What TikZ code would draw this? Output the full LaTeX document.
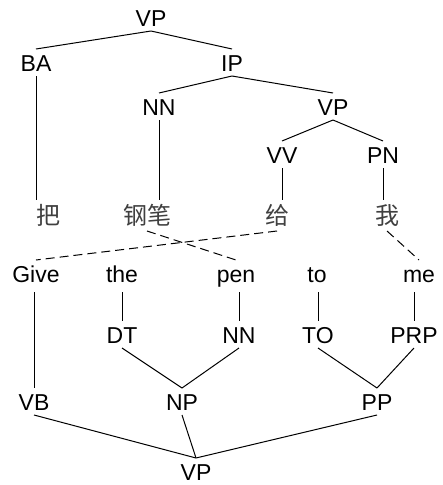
\documentclass[tikz,border=0pt]{standalone}
\usepackage{fontspec}
\setmainfont{Liberation Sans}
\newfontfamily\zhfont{Noto Sans CJK SC}
\usetikzlibrary{%
	positioning,
	calc
}

\begin{document}
\begin{tikzpicture}[
		x=1pt, y=-1pt, line width=1pt,
		tag/.style={font=\fontsize{23}{23}\selectfont, anchor=base, inner sep=0pt, outer ysep=5pt, text height=17pt, text depth=0pt},
		word/.style={tag, text depth=5pt},
		zh/.style={font=\zhfont\fontsize{24}{24}\selectfont, text=black!75, anchor=base, inner sep=0pt, outer ysep=5pt, text height=19pt, text depth=2pt},
		link/.style={dash pattern=on 9pt off 5pt}
	]
	\useasboundingbox (0,0) rectangle (443,485);
	
	% Chinese tree
	\node (vp-top) [tag] at (151,26) {VP};
	\node (ba) [tag] at (36,71) {BA};
	\node (ip) [tag] at (232,71) {IP};
	\node (nn-zh) [tag] at (159,115) {NN};
	\node (vp-zh) [tag] at (333,115) {VP};
	\node (vv) [tag] at (282,163) {VV};
	\node (pn) [tag] at (383,163) {PN};
	
	\node (zh-ba) [zh] at (48,224) {把};
	\node (zh-gangbi) [zh] at (147,224) {钢笔};
	\node (zh-gei) [zh] at (277,224) {给};
	\node (zh-wo) [zh] at (387,224) {我};
	
	\draw (vp-top.south) -- (ba.north);
	\draw (vp-top.south) -- (ip.north);
	\draw (ip.south) -- (nn-zh.north);
	\draw (ip.south) -- (vp-zh.north);
	\draw (vp-zh.south) -- (vv.north);
	\draw (vp-zh.south) -- (pn.north);
	\draw (ba.south) -- (ba.south |- zh-ba.north);
	\draw (nn-zh.south) -- (nn-zh.south |- zh-gangbi.north);
	\draw (vv.south) -- (vv.south |- zh-gei.north);
	\draw (pn.south) -- (pn.south |- zh-wo.north);
	
	% English tree
	\node (en-give) [word] at (36,282) {Give};
	\node (en-the) [word] at (122,282) {the};
	\node (en-pen) [word] at (236,282) {pen};
	\node (en-to) [word] at (317,282) {to};
	\node (en-me) [word] at (419,282) {me};
	
	\node (dt) [tag] at (122,343) {DT};
	\node (nn-en) [tag] at (239,343) {NN};
	\node (to) [tag] at (318,343) {TO};
	\node (prp) [tag] at (414,343) {PRP};
	\node (vb) [tag] at (34,410) {VB};
	\node (np) [tag] at (182,410) {NP};
	\node (pp) [tag] at (377,410) {PP};
	\node (vp-en) [tag] at (196,480) {VP};
	
	\draw (vb.north |- en-give.south) -- (vb.north);
	\draw (dt.north |- en-the.south) -- (dt.north);
	\draw (nn-en.north |- en-pen.south) -- (nn-en.north);
	\draw (to.north |- en-to.south) -- (to.north);
	\draw (prp.north |- en-me.south) -- (prp.north);
	\draw (dt.south) -- (np.north);
	\draw (nn-en.south) -- (np.north);
	\draw (to.south) -- (pp.north);
	\draw (prp.south) -- (pp.north);
	\draw (vb.south) -- (vp-en.north);
	\draw (np.south) -- (vp-en.north);
	\draw (pp.south) -- (vp-en.north);
	
	% word alignment
	\draw[link] (zh-gei.south) -- (en-give.north);
	\draw[link] (zh-gangbi.south) -- (en-pen.north);
	\draw[link] (zh-wo.south) -- (en-me.north);
\end{tikzpicture}
\end{document}
